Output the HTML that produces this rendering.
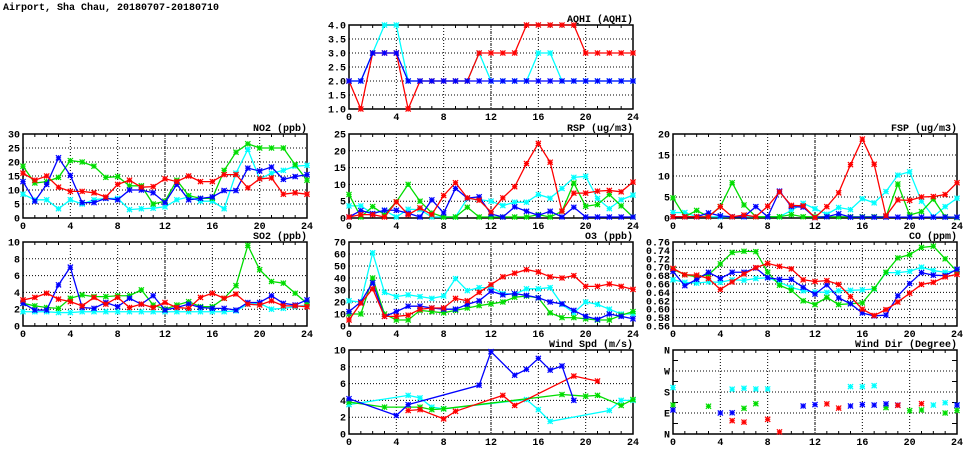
<!DOCTYPE html>
<html><head><meta charset="utf-8"><style>
body{margin:0;background:#fff;width:975px;height:447px;overflow:hidden}
svg text{font-family:"Liberation Mono","DejaVu Sans Mono",monospace;font-weight:bold;font-size:10px;fill:#000}
</style></head><body>
<svg id="c" width="975" height="447">
<text x="3" y="10" font-size="11">Airport, Sha Chau, 20180707-20180710</text>
</svg>
<script>
const hours=[0,1,2,3,4,5,6,7,8,9,10,11,12,13,14,15,16,17,18,19,20,21,22,23,24];
const xTicks=[0,4,8,12,16,20,24];
const colRed="#ff0000",colGreen="#00dd00",colBlue="#0000ff",colCyan="#00ffff";
const N=null;
// AQHI
const aqhiTicks=[1.0,1.5,2.0,2.5,3.0,3.5,4.0];
const aqhiRed=[2,1,3,3,3,1,2,2,2,2,2,3,3,3,3,4,4,4,4,4,3,3,3,3,3];
const aqhiCyan=[2,2,3,4,4,2,2,2,2,2,2,3,2,2,2,2,3,3,2,2,2,2,2,2,2];
const aqhiBlue=[2,2,3,3,3,2,2,2,2,2,2,2,2,2,2,2,2,2,2,2,2,2,2,2,2];
// NO2
const no2Ticks=[0,5,10,15,20,25,30];
const no2Green=[18.5,12.5,13,14.5,20.5,20,18.5,14.5,14.8,11.5,11.5,5,6,13.5,8,7,7,17,23.5,26.5,25,25,25,19,13.5];
const no2Red=[16,13.5,15,11,9.5,9.5,9,7.5,12,13.5,11,11.2,14,13,15,13,13,15.5,15.5,10.8,14,14.3,8.5,9,8.5];
const no2Blue=[13,6,12,21.5,15.2,5.5,5.5,7,6.5,10,10,9,5.5,12,6.5,7,7.5,9.8,9.8,17.8,16.8,18.2,13.8,14.8,15.5];
const no2Cyan=[8.5,6.5,6.5,3.3,6.5,5,6.5,7,7,3,3.3,3.5,4,6.5,7.5,6,6,3.3,16,24.5,14,16,17,18.5,18.8];
// RSP
const rspTicks=[0,5,10,15,20,25];
const rspRed=[0.3,1,1,0.3,4.8,1,3,1,6.7,10.5,6,5.3,1.8,6,9.3,16.2,22.2,16.6,2,7.4,7.4,8,8.2,7.8,10.7];
const rspGreen=[7,0.3,3.4,1,4.8,10,5,1.5,0.3,0.3,3.2,0.3,0.3,0.3,0.3,0.3,1,0.3,2,10.4,3.5,4,7,3.6,0.3];
const rspBlue=[0.3,2.2,1.3,2.3,2.3,1.4,0.3,5.4,1.5,8.8,5.9,6.3,1.2,0.3,3.3,2,0.8,2,0.3,3.2,0.3,0.3,0.3,0.3,0.3];
const rspCyan=[3.6,3.6,1.3,2.3,0.3,2.6,2.5,0.3,0.3,0.3,5.8,5.5,5,3.7,4.7,4.7,7,5.9,8.8,12.1,12.4,5.8,2.8,5.4,6.8];
// FSP
const fspTicks=[0,5,10,15,20];
const fspRed=[0.3,0.3,0.3,0.3,2.7,0.3,0.7,0.3,2.8,6.2,3,2.9,0.1,2.7,6,12.7,18.8,12.8,0.5,4.3,4.2,5,5.1,5.6,8.4];
const fspGreen=[4.8,0.3,1.8,0.3,2.7,8.4,3.1,0.3,0.3,0.3,0.8,0.3,0.3,0.3,0.3,0.3,0.3,0.3,0.3,8.1,0.7,1.5,4.5,0.3,0.1];
const fspBlue=[0.3,0.3,0.3,1.2,0.5,0.3,0.3,2.7,0.3,6.4,2.7,2.6,0.1,0.3,1,0.2,0.2,0.2,0.2,0.2,0.2,0.2,0.2,0.2,0.2];
const fspCyan=[1.3,1.3,0.3,0.3,0.3,0.3,0.3,0.3,0.3,0.3,1.8,3.5,2.2,0.9,2.5,2,4.6,3.6,6.3,10.2,11,4,0.3,2.7,4.7];
// SO2
const so2Ticks=[0,2,4,6,8,10];
const so2Green=[2.7,2.4,2.2,2.1,3.3,3.7,3.5,3.5,3.6,3.6,4.3,2.5,2,2.5,2.9,2.3,2.3,3.3,4.8,9.6,6.7,5.3,5.1,3.9,2.7];
const so2Red=[3.1,3.4,3.9,3.2,2.9,2.4,3.4,2.6,3.4,2.2,2.6,2.2,2.8,2.2,2.1,3.4,3.9,3.3,3.8,2.6,2.5,3,2.4,2.4,2.3];
const so2Blue=[2.7,1.9,1.9,4.9,7.0,2.2,2.1,2.8,2.3,3.3,2.6,3.6,1.9,2.2,2.6,2.2,2.1,2.1,1.9,2.8,2.8,3.6,2.7,2.5,3.1];
const so2Cyan=[1.7,1.7,1.7,1.6,1.6,1.7,1.7,1.7,1.7,1.7,1.7,1.7,1.7,1.7,1.7,1.7,1.7,1.7,1.8,2.6,2.7,2.0,2.1,2.3,2.5];
// O3
const o3Ticks=[0,10,20,30,40,50,60,70];
const o3Red=[5,19,31,8,8,9,14,15,15,23,21,28,34.5,41,44,47,45,41,40,42,33,33,35,33,30.5];
const o3Green=[10,10,40,10,5,5,13,12,11,13,15,17,18.5,20,24,25,23.5,11,7,7,6,5,5,9,12];
const o3Blue=[12,20,36,8,12,16.5,16.5,15,14,14,18,21,29,26,27,25.5,23.5,20,18.5,13,8,5.5,10,8,6];
const o3Cyan=[21,20,61,28,24.5,26,24.5,23,25,39.5,29.5,32,32,27,26.5,31,31,32,18,11,20,18,14,10,10];
// CO
const coTicks=[0.56,0.58,0.60,0.62,0.64,0.66,0.68,0.70,0.72,0.74,0.76];
const coGreen=[.695,.682,.677,.682,.708,.735,.738,.737,.688,.657,.645,.62,.611,.628,.611,.613,.615,.649,.688,.722,.73,.747,.75,.72,.69];
const coRed=[.697,.682,.681,.673,.647,.665,.684,.699,.709,.702,.696,.67,.666,.668,.659,.63,.600,.585,.599,.617,.638,.659,.664,.677,.683];
const coBlue=[.69,.656,.671,.688,.673,.688,.688,.698,.675,.671,.671,.652,.636,.658,.627,.613,.591,.584,.586,.632,.661,.687,.681,.68,.695];
const coCyan=[.67,.664,.662,.665,.664,.67,.669,.673,.675,.664,.652,.644,.641,.64,.644,.645,.646,.648,.687,.687,.69,.7,.692,.688,.692];
// Wind speed
const wsTicks=[0,2,4,6,8,10];
const wsBlue=[4.2,N,N,N,2.2,3.5,N,N,N,N,N,5.8,9.8,N,7,7.7,9,7.6,8.1,4,N,N,N,N,N];
const wsRed=[N,N,N,N,N,2.8,2.9,N,1.8,2.7,N,N,N,4.6,3.4,N,N,N,N,6.9,N,6.3,N,N,N];
const wsGreen=[3.8,N,N,3.2,N,N,3.2,2.9,3.0,N,N,N,N,N,N,N,N,N,4.7,N,4.5,4.6,N,3.4,4.1];
const wsCyan=[3.5,N,N,N,N,4.6,4.3,3.2,3.0,N,N,N,N,N,N,4.1,2.9,1.5,N,N,N,N,2.8,4.0,4.0];
// Wind direction (degrees)
const wdTicks=[0,90,180,270,360];
const wdTickLabels=["N","E","S","W","N"];
const wdCyan=[199,N,N,N,N,192,196,193,193,N,N,N,N,N,N,203,203,207,N,N,N,N,124,134,124];
const wdGreen=[124,N,N,119,N,N,110,130,N,N,N,N,N,N,N,N,N,N,113,N,100,103,N,90,101];
const wdBlue=[103,N,N,N,90,91,N,N,N,N,N,120,126,N,N,120,126,124,129,124,N,N,N,N,124];
const wdRed=[N,N,N,N,N,57,51,N,63,9,N,N,N,129,111,N,N,N,N,123,N,130,N,N,N];

const svg=document.getElementById('c');
const NS="http://www.w3.org/2000/svg";
function mk(tag,attrs,parent){const e=document.createElementNS(NS,tag);for(const k in attrs)e.setAttribute(k,attrs[k]);(parent||svg).appendChild(e);return e;}

function panel(name,title,L,R,T,B,ymin,ymax,yTicks,yLabels,yFmt,series,lines){
  const g=mk('g',{});
  
  
  const xs=v=>L+(v-0)/(24-0)*(R-L);
  const ys=v=>B-(v-ymin)/(ymax-ymin)*(B-T);
  // grid
  yTicks.forEach((t,i)=>{
    const y=ys(t);
    if(i>0&&i<yTicks.length-1){const gl=mk('line',{x1:L,x2:R,y1:y,y2:y,stroke:'#000','stroke-width':1,'stroke-dasharray':'1,2'},g);
    }
    const tx=mk('text',{x:L-3,y:y+3.5,'text-anchor':'end'},g);
    tx.textContent=yLabels?yLabels[i]:yFmt(t);
    
  });
  if(name==='wind-dir'){[45,135,225,315].forEach(t=>{const y=ys(t);mk('line',{x1:L,x2:L+5,y1:y,y2:y,stroke:'#000'},g);mk('line',{x1:R-5,x2:R,y1:y,y2:y,stroke:'#000'},g);});}
  xTicks.forEach((t,i)=>{
    const x=xs(t);
    if(i>0&&i<xTicks.length-1){const gl=mk('line',{x1:x,x2:x,y1:T,y2:B,stroke:'#000','stroke-width':1,'stroke-dasharray':(t%12===0?'3,1,1,1':'1,2')},g);
    }
    const tx=mk('text',{x:x,y:B+11,'text-anchor':'middle'},g);
    tx.textContent=t;
    
  });
  for(let h=1;h<24;h++){if(h%4){const x=xs(h);mk('line',{x1:x,x2:x,y1:B-3,y2:B,stroke:'#000'},g);mk('line',{x1:x,x2:x,y1:T,y2:T+3,stroke:'#000'},g);}}
  const fr=mk('rect',{x:L,y:T,width:R-L,height:B-T,fill:'none',stroke:'#000','stroke-width':1.5},g);
  
  const tt=mk('text',{x:R,y:T-3,'text-anchor':'end'},g);
  tt.textContent=title;
  
  series.forEach(s=>{
    const pts=[];
    s.data.forEach((v,i)=>{if(v!==null&&v!==undefined)pts.push([xs(hours[i]),ys(Math.max(ymin,Math.min(ymax,v)))]);});
    if(lines&&pts.length>1){
      const pl=mk('polyline',{points:pts.map(p=>p.join(',')).join(' '),fill:'none',stroke:s.color,'stroke-width':1.3},g);
      
      
    }
    pts.forEach(p=>{
      const r=2.6,[x,y]=p;
      const m=mk('path',{d:`M${x-r},${y}H${x+r}M${x},${y-r}V${y+r}M${x-r},${y-r}L${x+r},${y+r}M${x-r},${y+r}L${x+r},${y-r}`,stroke:s.color,'stroke-width':1.2,fill:'none'},g);
      
      
    });
  });
}
const f1=v=>v.toFixed(1),f0=v=>String(v),f2=v=>v.toFixed(2);
panel('aqhi','AQHI (AQHI)',349,633,25,109,1,4,aqhiTicks,null,f1,[{key:'cyan',color:colCyan,data:aqhiCyan},{key:'red',color:colRed,data:aqhiRed},{key:'blue',color:colBlue,data:aqhiBlue}],true);
panel('no2','NO2 (ppb)',23,307,134,218,0,30,no2Ticks,null,f0,[{key:'cyan',color:colCyan,data:no2Cyan},{key:'green',color:colGreen,data:no2Green},{key:'blue',color:colBlue,data:no2Blue},{key:'red',color:colRed,data:no2Red}],true);
panel('rsp','RSP (ug/m3)',349,633,134,218,0,25,rspTicks,null,f0,[{key:'cyan',color:colCyan,data:rspCyan},{key:'green',color:colGreen,data:rspGreen},{key:'blue',color:colBlue,data:rspBlue},{key:'red',color:colRed,data:rspRed}],true);
panel('fsp','FSP (ug/m3)',673,957,134,218,0,20,fspTicks,null,f0,[{key:'cyan',color:colCyan,data:fspCyan},{key:'green',color:colGreen,data:fspGreen},{key:'blue',color:colBlue,data:fspBlue},{key:'red',color:colRed,data:fspRed}],true);
panel('so2','SO2 (ppb)',23,307,242,326,0,10,so2Ticks,null,f0,[{key:'cyan',color:colCyan,data:so2Cyan},{key:'green',color:colGreen,data:so2Green},{key:'blue',color:colBlue,data:so2Blue},{key:'red',color:colRed,data:so2Red}],true);
panel('o3','O3 (ppb)',349,633,242,326,0,70,o3Ticks,null,f0,[{key:'cyan',color:colCyan,data:o3Cyan},{key:'green',color:colGreen,data:o3Green},{key:'blue',color:colBlue,data:o3Blue},{key:'red',color:colRed,data:o3Red}],true);
panel('co','CO (ppm)',673,957,242,326,0.56,0.76,coTicks,null,f2,[{key:'cyan',color:colCyan,data:coCyan},{key:'green',color:colGreen,data:coGreen},{key:'blue',color:colBlue,data:coBlue},{key:'red',color:colRed,data:coRed}],true);
panel('wind-spd','Wind Spd (m/s)',349,633,350,434,0,10,wsTicks,null,f0,[{key:'cyan',color:colCyan,data:wsCyan},{key:'green',color:colGreen,data:wsGreen},{key:'red',color:colRed,data:wsRed},{key:'blue',color:colBlue,data:wsBlue}],true);
panel('wind-dir','Wind Dir (Degree)',673,957,350,434,0,360,wdTicks,wdTickLabels,f0,[{key:'cyan',color:colCyan,data:wdCyan},{key:'green',color:colGreen,data:wdGreen},{key:'blue',color:colBlue,data:wdBlue},{key:'red',color:colRed,data:wdRed}],false);
</script>
</body></html>
